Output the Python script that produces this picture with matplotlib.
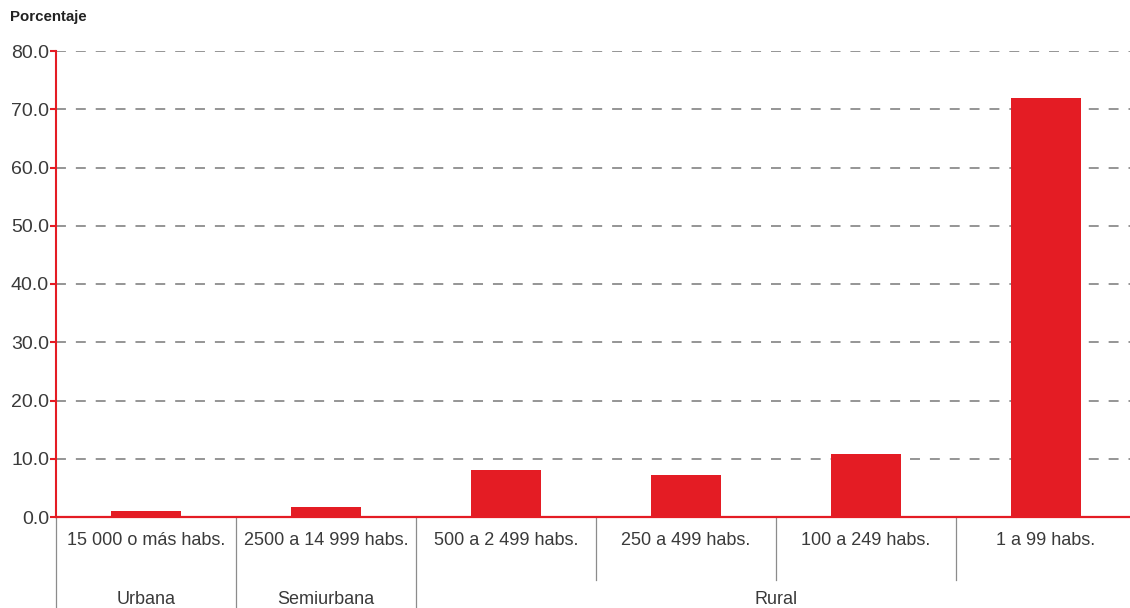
import matplotlib.pyplot as plt
import numpy as np

plt.rcParams['font.family'] = ['Liberation Sans', 'DejaVu Sans']

categories = ['15 000 o más habs.', '2500 a 14 999 habs.', '500 a 2 499 habs.',
              '250 a 499 habs.', '100 a 249 habs.', '1 a 99 habs.']
values = [1.0, 1.7, 8.0, 7.2, 10.8, 71.9]
groups = ['Urbana', 'Semiurbana', 'Rural']
group_spans = [(0, 0), (1, 1), (2, 5)]
yticks = [0, 10, 20, 30, 40, 50, 60, 70, 80]

red = '#E41C24'
gray = '#8c8c8c'
txt = '#3a3a3a'

fig = plt.figure(figsize=(11.3, 6.08), dpi=100)
ax = fig.add_axes([56/1130, 91/608, 1074/1130, 466/608])

x = np.arange(len(categories))
ax.bar(x, values, width=0.39, color=red, zorder=3)

ax.set_xlim(-0.5, -0.5 + 1074/180)
ax.set_ylim(0, 80)
ax.set_yticks(yticks)
ax.set_yticklabels(['%.1f' % v for v in yticks], fontsize=14, color=txt)
ax.tick_params(axis='y', colors=red, length=4, width=1.5, pad=1, labelcolor=txt)
ax.set_xticks([])

for s in ['top', 'right']:
    ax.spines[s].set_visible(False)
ax.spines['left'].set_color(red)
ax.spines['left'].set_linewidth(1.5)
ax.spines['bottom'].set_color(red)
ax.spines['bottom'].set_linewidth(1.6)
ax.spines['bottom'].set_zorder(4)

for v in yticks[1:]:
    ax.axhline(v, color=gray, lw=1.3, linestyle=(0, (5.5, 5.5)), zorder=1)

trans = ax.get_xaxis_transform()
# category labels
for i, c in enumerate(categories):
    ax.text(i, -0.0515, c, transform=trans, ha='center', va='center',
            fontsize=13, color=txt)

# separators
for i in range(len(categories)):
    b = i - 0.5
    y0 = -0.2 if i <= 2 else -0.135
    ax.plot([b, b], [0, y0], transform=trans, color=gray, lw=0.9,
            clip_on=False, zorder=1)

# group labels
for g, (a, b) in zip(groups, group_spans):
    ax.text((a + b) / 2, -0.178, g, transform=trans, ha='center', va='center',
            fontsize=13, color=txt)

fig.text(10/1130, 1 - 17/608, 'Porcentaje', fontsize=10.8, fontweight='bold',
         color='#222222', ha='left', va='center')

fig.savefig('out.png', dpi=100)
